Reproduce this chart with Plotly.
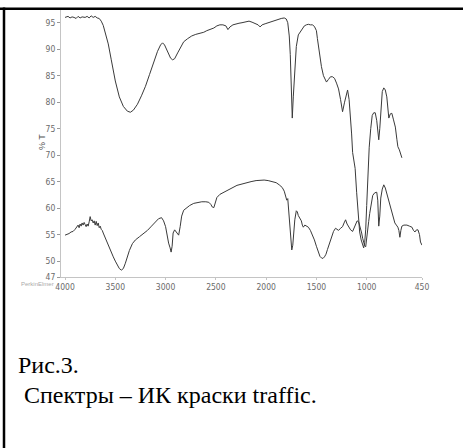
import plotly.graph_objects as go

# Upper spectrum (wavenumber, %T)
wn_top = [4000, 3970, 3950, 3930, 3910, 3890, 3870, 3850, 3830, 3800, 3780, 3760, 3740, 3720, 3700, 3680,
          3660, 3640, 3620, 3600, 3570, 3540, 3500, 3460, 3420, 3380, 3350, 3320, 3280, 3240, 3200, 3160,
          3120, 3080, 3050, 3030, 3010, 2980, 2950, 2930, 2910, 2880, 2850, 2820, 2780, 2740, 2700, 2660,
          2620, 2590, 2560, 2520, 2490, 2460, 2430, 2400, 2380, 2360, 2330, 2300, 2270, 2240, 2200, 2170,
          2140, 2110, 2080, 2060, 2040, 2010, 1980, 1950, 1920, 1880, 1850, 1820, 1800, 1785, 1770, 1760,
          1750, 1740, 1730, 1715, 1700, 1680, 1660, 1640, 1620, 1600, 1580, 1560, 1540, 1520, 1500, 1490,
          1470, 1450, 1430, 1410, 1400, 1380, 1360, 1340, 1320, 1300, 1280, 1260, 1240, 1220, 1200, 1190,
          1175, 1165, 1150, 1140, 1125, 1115, 1100, 1085, 1070, 1055, 1040, 1030, 1020, 1010, 1000, 990,
          975, 960, 945, 930, 915, 900, 890, 880, 870, 860, 845, 830, 815, 800, 790, 780, 765, 750, 735,
          715, 700, 690, 675, 660, 650]
t_top = [96.0, 96.2, 95.9, 96.1, 96.0, 95.8, 96.2, 95.9, 96.1, 96.0, 96.2, 95.9, 96.3, 96.0, 96.2, 95.9,
         95.8, 95.3, 94.5, 93.2, 91.0, 88.0, 84.0, 81.0, 79.2, 78.3, 78.1, 78.5, 79.6, 81.2, 83.0, 85.2,
         87.5, 89.6, 90.8, 91.2, 90.8, 89.5, 88.3, 88.0, 88.2, 89.3, 90.5, 91.4, 92.0, 92.5, 92.8, 93.0,
         93.2, 93.5, 93.7, 94.0, 94.4, 94.6, 94.6, 94.4, 93.7, 94.2, 94.6, 94.8, 94.9, 95.0, 95.1, 95.3,
         95.1, 94.9, 94.6, 94.2, 94.6, 94.8, 95.0, 95.2, 95.4, 95.6, 95.8, 95.9, 95.7, 95.0, 92.5, 89.0,
         82.0, 77.0, 81.0, 87.0, 90.5, 92.7, 93.2, 93.8, 94.4, 94.6, 94.7, 94.6, 94.6, 94.3, 93.5, 92.0,
         89.0, 86.7, 85.0, 84.0, 83.8, 84.3, 84.8, 84.8, 84.5, 83.6, 82.5, 80.5, 78.2, 80.0, 82.0, 82.3,
         80.5, 78.5, 74.0, 70.5, 68.8, 67.5, 63.0, 58.3, 55.5, 54.0, 52.8, 52.5, 53.5, 55.9, 60.5, 66.6,
         71.5, 75.0, 77.5, 78.0, 78.0, 76.5, 74.5, 72.9, 75.0, 78.5, 82.0, 82.7, 82.3, 81.0, 78.5, 77.0,
         77.8, 77.9, 76.8, 75.3, 73.0, 71.6, 71.0, 70.0, 69.5]

# Lower spectrum (wavenumber, %T)
wn_bot = [4000, 3980, 3960, 3940, 3920, 3900, 3880, 3870, 3860, 3850, 3840, 3830, 3820, 3810, 3800, 3790,
          3780, 3770, 3760, 3750, 3740, 3730, 3720, 3710, 3700, 3690, 3680, 3670, 3660, 3650, 3640, 3630,
          3620, 3600, 3580, 3560, 3540, 3520, 3500, 3480, 3460, 3440, 3420, 3400, 3380, 3360, 3330, 3300,
          3260, 3220, 3180, 3140, 3100, 3070, 3040, 3020, 3000, 2985, 2970, 2955, 2945, 2935, 2925, 2910,
          2895, 2880, 2870, 2855, 2840, 2820, 2790, 2760, 2720, 2680, 2640, 2600, 2570, 2550, 2535, 2520,
          2505, 2490, 2460, 2420, 2380, 2350, 2320, 2290, 2250, 2200, 2150, 2100, 2060, 2020, 1980, 1940,
          1900, 1870, 1840, 1820, 1805, 1795, 1785, 1775, 1765, 1755, 1745, 1735, 1725, 1715, 1700, 1690,
          1680, 1665, 1650, 1640, 1630, 1615, 1600, 1580, 1560, 1540, 1520, 1500, 1480, 1465, 1450, 1435,
          1420, 1405, 1390, 1370, 1350, 1330, 1310, 1295, 1280, 1260, 1240, 1225, 1210, 1195, 1180, 1160,
          1140, 1125, 1110, 1095, 1080, 1065, 1050, 1040, 1030, 1020, 1010, 1000, 990, 980, 970, 955, 940,
          920, 900, 890, 880, 870, 860, 845, 830, 815, 800, 780, 760, 740, 720, 705, 690, 680, 670, 660,
          650, 630, 600, 575, 550, 535, 520, 505, 490, 475, 465, 450]
t_bot = [54.9, 55.0, 55.2, 55.5, 55.6, 56.0, 56.4, 56.8, 56.3, 57.0, 56.6, 57.2, 56.8, 57.3, 56.9, 56.5,
         57.0, 56.6, 57.4, 58.4, 57.6, 57.8, 57.2, 57.6, 56.8, 57.5, 56.7, 57.2, 56.3, 56.6, 56.0, 55.8,
         55.3, 54.4, 53.3, 52.3, 51.5, 50.8, 50.0, 49.3, 48.6, 48.3, 48.6, 49.6, 50.8, 52.0, 53.3, 54.0,
         54.6, 55.2, 55.8, 56.6, 57.4, 58.0, 58.2, 57.6, 56.5, 54.8, 53.4, 52.5, 51.7, 52.8, 55.3, 55.9,
         55.6, 55.3, 54.9, 56.5, 58.5, 59.6, 60.1, 60.5, 60.9, 61.1, 61.2, 61.2, 61.1, 60.7, 60.2, 60.1,
         61.0, 62.0, 62.6, 63.0, 63.4, 63.8, 64.0, 64.3, 64.5, 64.8, 65.0, 65.2, 65.3, 65.3, 65.2, 65.0,
         64.8, 64.4, 63.9, 63.2, 62.0, 61.5, 61.8, 59.5, 56.5, 53.5, 52.1, 53.0, 55.8, 57.8, 59.5, 59.3,
         58.6, 58.0, 57.6, 56.8, 56.4, 56.8, 56.6, 56.4, 55.8, 55.0, 54.0, 52.8, 51.7, 50.9, 50.6, 50.5,
         50.8, 51.3, 52.2, 53.3, 54.6, 55.6, 56.2, 56.0, 55.8, 56.2, 56.5, 57.2, 57.8, 57.0, 56.4, 55.9,
         55.6, 56.3, 57.2, 57.6, 57.4, 56.5, 55.3, 54.3, 53.4, 52.9, 52.7, 54.0, 55.8, 57.5, 59.0, 61.0, 62.4,
         62.9, 63.0, 61.5, 56.6, 58.5, 61.9, 63.6, 64.4, 63.8, 62.8, 61.0, 59.8, 58.6, 57.2, 56.8, 56.4, 55.8, 54.5, 55.8,
         56.6, 56.8, 56.8, 56.6, 56.4, 55.8, 55.5, 55.9, 55.9, 55.0, 53.6, 53.0]

x_ticks = [4000, 3500, 3000, 2500, 2000, 1500, 1000, 450]
x_tick_text = ["4000", "3500", "3000", "2500", "2000", "1500", "1000", "450"]
y_ticks = [95, 90, 85, 80, 75, 70, 65, 60, 55, 50, 47]
y_tick_text = [str(v) for v in y_ticks]

W, H = 463, 448
L, R, T, B = 61, 41, 10, 171
PW, PH = W - L - R, H - T - B

def px(x):
    return (x - L) / PW

def py(y):
    return (H - B - y) / PH

tick_font = dict(family="Liberation Sans Narrow, Arial Narrow, DejaVu Sans Condensed, sans-serif",
                 size=8.5, color="#6a6a6a")
line_style = dict(color="#3a3a3a", width=1)
cap_font = dict(family="Liberation Serif, Times New Roman, serif", size=24, color="black")

fig = go.Figure()
fig.add_trace(go.Scatter(x=wn_top, y=t_top, mode="lines", line=line_style, hoverinfo="skip"))
fig.add_trace(go.Scatter(x=wn_bot, y=t_bot, mode="lines", line=line_style, hoverinfo="skip"))

fig.update_layout(
    width=W, height=H,
    margin=dict(l=L, r=R, t=T, b=B, pad=0),
    paper_bgcolor="white", plot_bgcolor="white",
    showlegend=False,
    xaxis=dict(range=[4040, 450], tickvals=x_ticks, ticktext=x_tick_text, showgrid=False,
               zeroline=False, showline=True, linecolor="#c4c4c4", linewidth=1,
               ticks="outside", ticklen=2, tickcolor="#c4c4c4", tickfont=tick_font),
    yaxis=dict(range=[47, 97.4], tickvals=y_ticks, ticktext=y_tick_text, showgrid=False,
               zeroline=False, showline=True, linecolor="#c4c4c4", linewidth=1,
               ticks="outside", ticklen=3, tickcolor="#999999", tickfont=tick_font),
    annotations=[
        dict(text="% T", x=px(35), y=py(142), xref="paper", yref="paper", showarrow=False,
             textangle=-90, font=dict(family="Liberation Sans Narrow, Arial Narrow, sans-serif",
                                      size=9, color="#555555")),
        dict(text="PerkinElmer", x=px(56), y=py(289), xref="paper", yref="paper", showarrow=False,
             xanchor="right",
             font=dict(family="Liberation Sans Narrow, Arial Narrow, sans-serif", size=6, color="#aaaaaa")),
        dict(text="Рис.3.", x=px(16), y=py(365), xref="paper", yref="paper", showarrow=False,
             xanchor="left", yanchor="middle", font=cap_font),
        dict(text=" Спектры – ИК краски traffic.", x=px(16), y=py(395), xref="paper", yref="paper",
             showarrow=False, xanchor="left", yanchor="middle", font=cap_font),
    ],
    shapes=[
        dict(type="line", xref="paper", yref="paper", x0=px(0), x1=px(W), y0=py(8.7), y1=py(8.7),
             line=dict(color="black", width=2.5)),
        dict(type="line", xref="paper", yref="paper", x0=px(4), x1=px(4), y0=py(7.5), y1=py(H),
             line=dict(color="black", width=2.5)),
    ],
)

fig.write_html("out.html", config={"displayModeBar": False},
               post_script="document.body.style.margin='0px';")
